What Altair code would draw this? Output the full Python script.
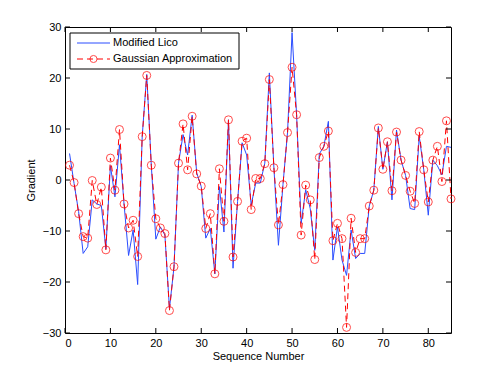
import altair as alt
import pandas as pd

seq = list(range(1, 86))
lico = [5.2, -0.7, -6.2, -14.4, -13.1, -3.9, -4.7, -5.0, -13.5, 2.8,
        -3.3, 6.9, -4.7, -14.8, -9.8, -20.5, 8.5, 20.7, 2.9, -11.6,
        -9.2, -10.8, -25.2, -17.1, 3.3, 8.9, 4.9, 12.7, 1.4, -1.3,
        -11.4, -9.5, -18.4, -1.3, -10.2, 11.8, -17.3, -4.2, 7.3, 4.9,
        -4.9, -0.6, -0.6, 3.3, 21.0, 2.4, -12.8, -0.9, 9.3, 28.9,
        12.8, -8.5, -1.9, -5.6, -13.8, 5.1, 6.6, 11.5, -15.7, -9.2,
        -15.7, -18.7, -9.8, -15.4, -14.4, -14.4, -5.1, -2.0, 10.5, 2.1,
        7.5, -3.9, 9.8, 3.9, 0.9, -5.6, -5.8, 8.6, 2.0, -6.9,
        3.9, 2.8, 1.0, 6.6, 6.4]
gauss = [2.9, -0.5, -6.6, -11.1, -11.4, -0.1, -4.8, -1.4, -13.7, 4.3,
         -2.0, 9.9, -4.7, -9.4, -7.9, -15.0, 8.5, 20.5, 2.9, -7.6,
         -9.4, -10.5, -25.6, -17.0, 3.3, 11.0, 2.0, 12.5, 1.2, -1.2,
         -9.5, -6.6, -18.4, 2.2, -8.1, 11.8, -15.1, -4.2, 7.6, 8.2,
         -5.8, 0.3, 0.3, 3.2, 19.7, 2.4, -8.8, -0.9, 9.3, 22.1,
         12.8, -10.8, -1.0, -3.9, -15.6, 4.4, 6.6, 9.6, -11.9, -8.5,
         -11.5, -28.9, -7.5, -14.2, -11.5, -11.5, -5.1, -2.0, 10.2, 2.1,
         7.5, -2.1, 9.4, 3.9, 0.9, -2.2, -4.6, 9.5, 2.0, -4.3,
         3.9, 6.6, -0.3, 11.6, -3.7]
x_ticks = [0, 10, 20, 30, 40, 50, 60, 70, 80]
y_ticks = [-30, -20, -10, 0, 10, 20, 30]
series_names = ["Modified Lico", "Gaussian Approximation"]

W, H = 386, 306
FONT = "Liberation Sans"
BLUE = "#2a4dff"
RED = "#ff0000"

df_l = pd.DataFrame({"x": seq, "y": lico})
df_g = pd.DataFrame({"x": seq, "y": gauss})
df_xt = pd.DataFrame({"x": x_ticks})
df_yt = pd.DataFrame({"y": y_ticks})

xs = alt.Scale(domain=[0, 85], nice=False, zero=False)
ys = alt.Scale(domain=[-30, 30], nice=False, zero=False)

xaxis = alt.Axis(values=x_ticks, title="Sequence Number", ticks=False, domain=False,
                 grid=False, labelPadding=4, titlePadding=2, format="d")
yaxis = alt.Axis(values=y_ticks, title="Gradient", ticks=False, domain=False,
                 grid=False, labelPadding=4, titlePadding=6, format="d")

blue_line = alt.Chart(df_l).mark_line(color=BLUE, strokeWidth=1).encode(
    x=alt.X("x:Q", scale=xs, axis=xaxis),
    y=alt.Y("y:Q", scale=ys, axis=yaxis),
)
red_line = alt.Chart(df_g).mark_line(color=RED, strokeWidth=1, strokeDash=[6, 4]).encode(
    x=alt.X("x:Q", scale=xs),
    y=alt.Y("y:Q", scale=ys),
)
red_pts = alt.Chart(df_g).mark_point(shape="circle", color=RED, filled=False,
                                     size=64, strokeWidth=1).encode(
    x=alt.X("x:Q", scale=xs),
    y=alt.Y("y:Q", scale=ys),
)

tick_b = alt.Chart(df_xt).mark_rule(color="black", strokeWidth=1).encode(
    x=alt.X("x:Q", scale=xs), y=alt.value(H), y2=alt.value(H - 5))
tick_t = alt.Chart(df_xt).mark_rule(color="black", strokeWidth=1).encode(
    x=alt.X("x:Q", scale=xs), y=alt.value(0), y2=alt.value(5))
tick_l = alt.Chart(df_yt).mark_rule(color="black", strokeWidth=1).encode(
    y=alt.Y("y:Q", scale=ys), x=alt.value(0), x2=alt.value(5))
tick_r = alt.Chart(df_yt).mark_rule(color="black", strokeWidth=1).encode(
    y=alt.Y("y:Q", scale=ys), x=alt.value(W), x2=alt.value(W - 5))

# legend box
leg_df = pd.DataFrame({"label": series_names})
leg_box = alt.Chart(leg_df.head(1)).mark_rect(fill="white", stroke="black", strokeWidth=1).encode(
    x=alt.value(5), x2=alt.value(174), y=alt.value(6), y2=alt.value(42))
leg_blue = alt.Chart(leg_df.head(1)).mark_rule(color=BLUE, strokeWidth=1).encode(
    x=alt.value(12), x2=alt.value(45), y=alt.value(16))
leg_red = alt.Chart(leg_df.head(1)).mark_rule(color=RED, strokeWidth=1, strokeDash=[6, 4]).encode(
    x=alt.value(12), x2=alt.value(45), y=alt.value(32))
leg_circ = alt.Chart(leg_df.head(1)).mark_point(shape="circle", color=RED, filled=False,
                                                size=50, strokeWidth=1).encode(
    x=alt.value(28.5), y=alt.value(32))
leg_t1 = alt.Chart(leg_df.iloc[[0]]).mark_text(align="left", baseline="middle", font=FONT,
                                               fontSize=11, color="black").encode(
    x=alt.value(48), y=alt.value(16), text="label:N")
leg_t2 = alt.Chart(leg_df.iloc[[1]]).mark_text(align="left", baseline="middle", font=FONT,
                                               fontSize=11, color="black").encode(
    x=alt.value(48), y=alt.value(32), text="label:N")

chart = alt.layer(
    blue_line, red_line, red_pts, tick_b, tick_t, tick_l, tick_r,
    leg_box, leg_blue, leg_red, leg_circ, leg_t1, leg_t2,
).properties(
    width=W, height=H,
    autosize=alt.AutoSizeParams(type="none"),
    padding={"left": 57, "top": 19, "right": 39, "bottom": 34},
    background="white",
).configure_view(
    stroke="black", strokeWidth=1
).configure_axis(
    labelFont=FONT, titleFont=FONT, labelFontSize=11, titleFontSize=11,
    labelColor="black", titleColor="black", titleFontWeight="normal",
)

chart.save("out.html", embed_options={"renderer": "svg", "actions": False})
